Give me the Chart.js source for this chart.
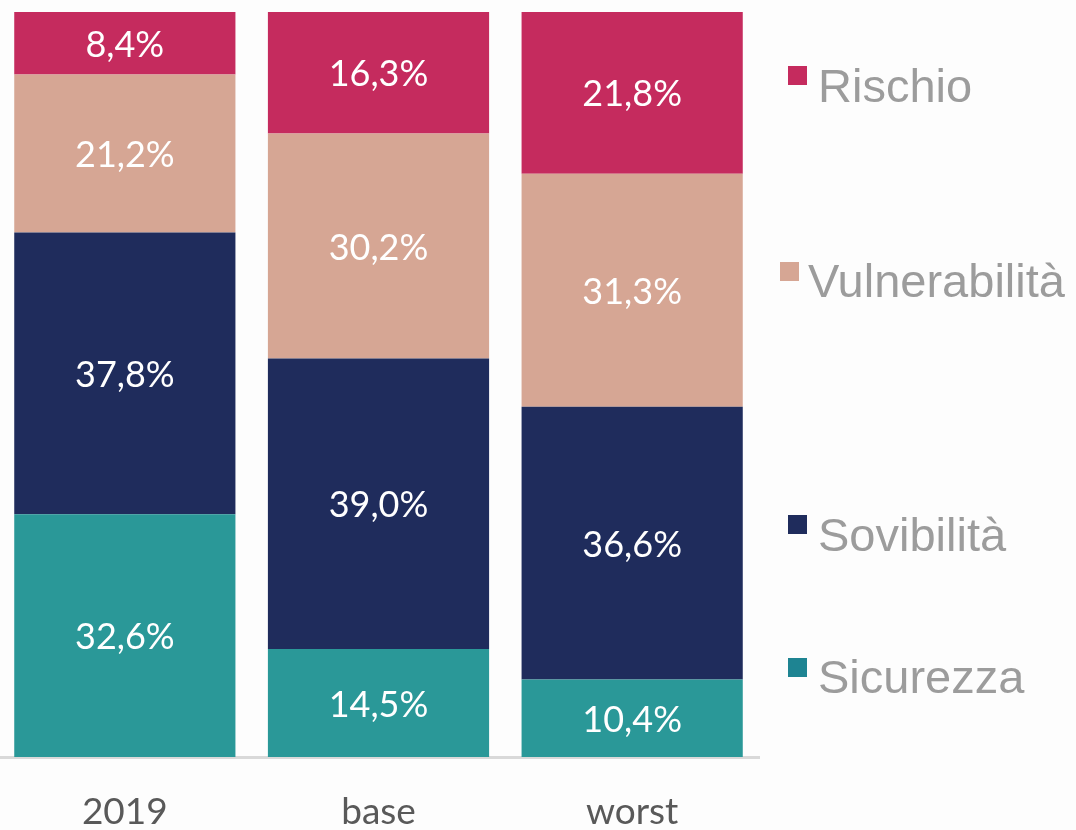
<!DOCTYPE html>
<html>
<head>
<meta charset="utf-8">
<script src="https://cdn.jsdelivr.net/npm/chart.js@4"></script>
<style>
  html, body { margin: 0; padding: 0; background: #fdfdfd; overflow: hidden; }
  #wrap { position: relative; width: 1076px; height: 830px; overflow: hidden; }
  #myChart { position: absolute; left: -2px; top: 0; }
</style>
</head>
<body>
<div id="wrap"><canvas id="myChart" width="1078" height="830"></canvas></div>
<script>
// categories and series (percent shares)
var categories = ['2019', 'base', 'worst'];
var sicurezza = [32.6, 14.5, 10.4];
var sovibilita = [37.8, 39.0, 36.6];
var vulnerabilita = [21.2, 30.2, 31.3];
var rischio = [8.4, 16.3, 21.8];

var seriesNames = ['Sicurezza', 'Sovibilità', 'Vulnerabilità', 'Rischio'];
var barColors = ['#2a9898', '#1f2c5c', '#d6a694', '#c52b5e'];
var legendColors = ['#1e8492', '#1f2c5c', '#d6a694', '#c52b5e'];

// legend placement in page pixels (x of square, top of square, baseline of text)
var legendPos = [
    { x: 788, y: 658, base: 693 },
    { x: 788, y: 515, base: 551 },
    { x: 780, y: 262, base: 297 },
    { x: 788, y: 66, base: 102 }
];

const segLabels = {
    id: 'segLabels',
    afterDatasetsDraw(chart) {
        const ctx = chart.ctx;
        ctx.save();
        ctx.font = '36px Lato';
        ctx.fillStyle = '#ffffff';
        ctx.textAlign = 'center';
        ctx.textBaseline = 'middle';
        chart.data.datasets.forEach(function (ds, i) {
            chart.getDatasetMeta(i).data.forEach(function (bar, j) {
                var txt = ds.data[j].toFixed(1).replace('.', ',') + '%';
                ctx.fillText(txt, bar.x, (bar.y + bar.base) / 2 + 2);
            });
        });
        ctx.restore();
    }
};

const sideLegend = {
    id: 'sideLegend',
    afterDraw(chart) {
        const ctx = chart.ctx;
        ctx.save();
        ctx.translate(2, 0); // canvas sits 2px left of the page
        ctx.font = '47px "Liberation Sans"';
        ctx.textBaseline = 'alphabetic';
        ctx.textAlign = 'left';
        seriesNames.forEach(function (name, i) {
            var p = legendPos[i];
            ctx.fillStyle = legendColors[i];
            ctx.fillRect(p.x, p.y, 19, 19);
            ctx.fillStyle = '#9c9c9c';
            ctx.fillText(name, p.x + 28 + (i === 2 ? 0 : 2), p.base);
        });
        ctx.restore();
    }
};

var series = [sicurezza, sovibilita, vulnerabilita, rischio];
var datasets = [];
for (var i = 0; i < series.length; i++) {
    datasets.push({
        label: seriesNames[i],
        data: series[i],
        backgroundColor: barColors[i],
        borderWidth: 0,
        categoryPercentage: 1,
        barPercentage: 0.872
    });
}

const config = {
    type: 'bar',
    data: { labels: categories, datasets: datasets },
    options: {
        responsive: false,
        animation: false,
        layout: { padding: { top: 12, right: 317, left: 0, bottom: 0 } },
        plugins: { legend: { display: false }, tooltip: { enabled: false } },
        scales: {
            x: {
                stacked: true,
                grid: { display: false, drawTicks: false },
                border: { display: true, color: '#d9d9d9', width: 3 },
                ticks: { color: '#595959', font: { family: 'Lato', size: 37 }, padding: 33 },
                afterFit: function (scale) { scale.height = 73; }
            },
            y: {
                stacked: true,
                display: false,
                min: 0,
                max: 100
            }
        }
    },
    plugins: [segLabels, sideLegend]
};

const myChart = new Chart(document.getElementById('myChart'), config);
</script>
</body>
</html>
